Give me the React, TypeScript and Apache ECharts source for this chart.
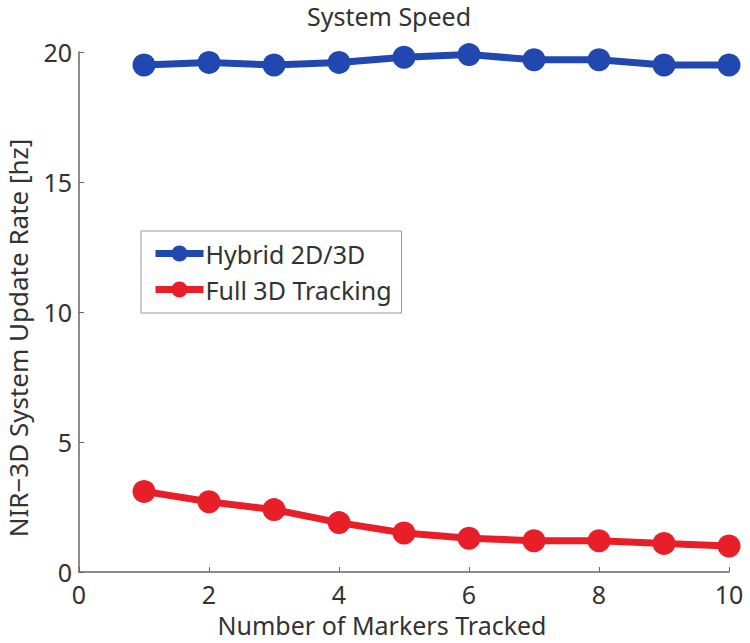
import React, { useEffect, useRef } from "react";
import * as echarts from "echarts";

const markers = [1, 2, 3, 4, 5, 6, 7, 8, 9, 10];
const hybrid = [19.5, 19.6, 19.5, 19.6, 19.8, 19.9, 19.7, 19.7, 19.5, 19.5];
const full3d = [3.1, 2.7, 2.4, 1.9, 1.5, 1.3, 1.2, 1.2, 1.1, 1.0];
const seriesNames = ["Hybrid 2D/3D", "Full 3D Tracking"];
const seriesColors = ["#2148b0", "#e81e28"];
const titleText = "System Speed";
const xTitle = "Number of Markers Tracked";
const yTitle = "NIR\u22123D System Update Rate [hz]";

const FONT = "'Noto Sans', sans-serif";
const TXT = "#333333";

export default function App() {
  const ref = useRef<HTMLDivElement>(null);
  useEffect(() => {
    const chart = echarts.init(ref.current!, null, { renderer: "svg" });
    const mk = (vals: number[]) => markers.map((x, i) => [x, vals[i]]);
    chart.setOption({
      animation: false,
      backgroundColor: "#ffffff",
      graphic: [
        {
          type: "text",
          x: 389,
          y: 16,
          style: { text: titleText, fontFamily: FONT, fontSize: 25, lineHeight: 24, fill: TXT, align: "center", verticalAlign: "middle" },
        },
        {
          type: "text",
          x: 382,
          y: 625,
          style: { text: xTitle, fontFamily: FONT, fontSize: 25, lineHeight: 22, fill: TXT, align: "center", verticalAlign: "middle" },
        },
        {
          type: "text",
          x: 18,
          y: 338,
          rotation: Math.PI / 2,
          style: { text: yTitle, fontFamily: FONT, fontSize: 26, lineHeight: 24, fill: TXT, align: "center", verticalAlign: "middle" },
        },
      ],
      grid: { left: 79, right: 21, top: 52, bottom: 71 },
      legend: {
        orient: "vertical",
        left: 141,
        top: 231,
        padding: [10, 10, 11, 11],
        itemGap: 11,
        itemWidth: 48,
        itemHeight: 20,
        borderColor: "#999",
        borderWidth: 1,
        backgroundColor: "#fff",
        lineStyle: { width: 7 },
        textStyle: { fontFamily: FONT, fontSize: 25, color: TXT, padding: [0, 0, 0, -3] },
        data: seriesNames,
      },
      xAxis: {
        type: "value",
        min: 0,
        max: 10,
        interval: 2,
        axisLine: { lineStyle: { color: "#666", width: 1.5 } },
        axisTick: { inside: true, length: 5, lineStyle: { color: "#666" } },
        splitLine: { show: false },
        axisLabel: { fontFamily: FONT, fontSize: 25, lineHeight: 20, color: TXT, margin: 12 },
      },
      yAxis: {
        type: "value",
        min: 0,
        max: 20,
        interval: 5,
        axisLine: { show: true, lineStyle: { color: "#666", width: 1.5 } },
        axisTick: { show: true, inside: true, length: 5, lineStyle: { color: "#666" } },
        splitLine: { show: false },
        axisLabel: { fontFamily: FONT, fontSize: 25, lineHeight: 22, color: TXT, margin: 7 },
      },
      series: [hybrid, full3d].map((vals, i) => ({
        name: seriesNames[i],
        type: "line",
        data: mk(vals),
        symbol: "circle",
        symbolSize: 23,
        clip: false,
        lineStyle: { color: seriesColors[i], width: 7 },
        itemStyle: { color: seriesColors[i] },
      })),
    });
    return () => chart.dispose();
  }, []);
  return <div ref={ref} style={{ width: 750, height: 643, position: "absolute", left: 0, top: 0 }} />;
}
